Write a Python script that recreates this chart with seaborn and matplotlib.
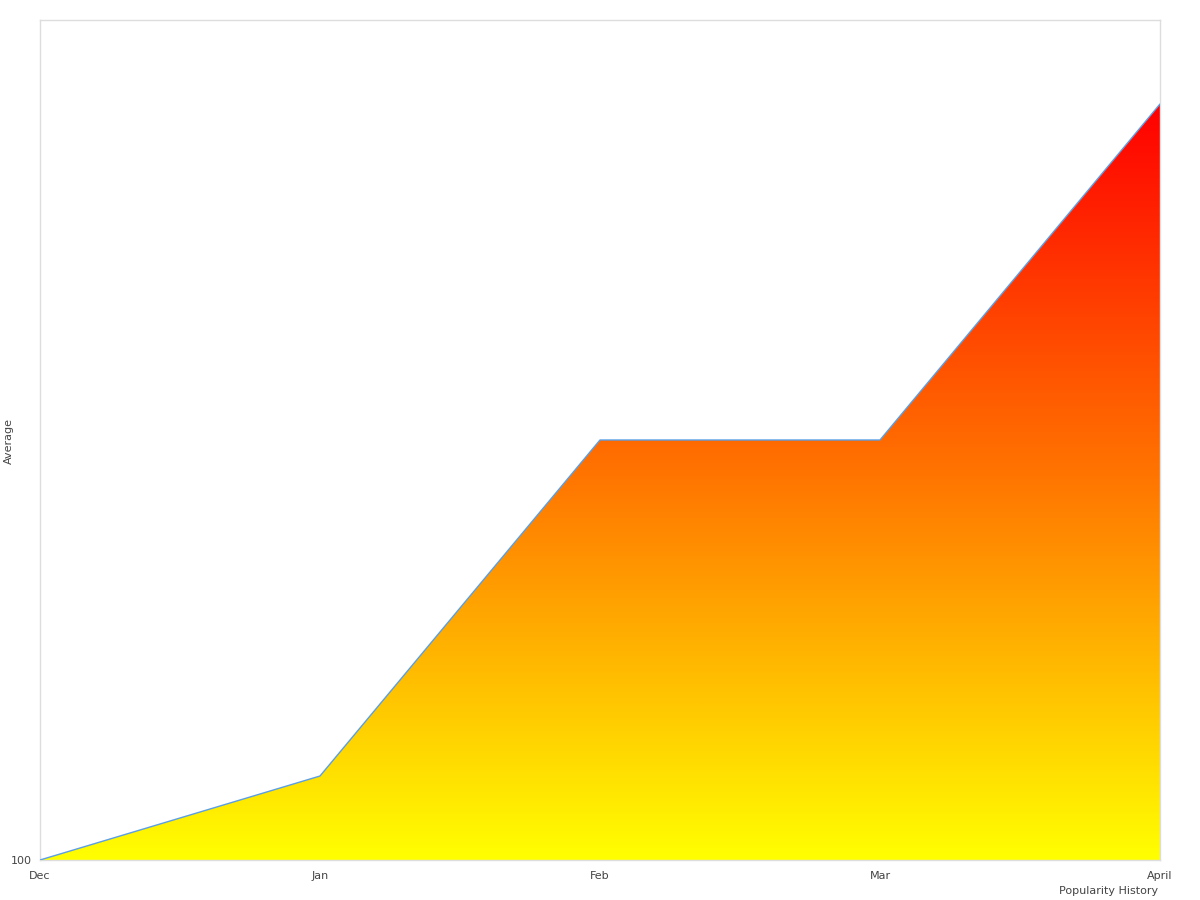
import matplotlib
matplotlib.use("Agg")
import matplotlib.pyplot as plt
import numpy as np
import pandas as pd
import seaborn as sns
from matplotlib.colors import LinearSegmentedColormap
from matplotlib.patches import Polygon

months = ["Dec", "Jan", "Feb", "Mar", "April"]
values = [100, 110, 150, 150, 190]

sns.set_theme(style="white")
plt.rcParams['font.family'] = ['DejaVu Sans']

df = pd.DataFrame({"x": np.arange(len(months)), "month": months, "value": values})

fig = plt.figure(figsize=(12, 9), dpi=100)
ax = fig.add_axes([40/1200, 1-860/900, 1120/1200, 840/900])

ymin, ymax = 100, 200
xs = df["x"].to_numpy(dtype=float)
ys = df["value"].to_numpy(dtype=float)

# gradient fill clipped to the area polygon
cmap = LinearSegmentedColormap.from_list("yr", ["#ffff00", "#ff7700", "#ff0000"])
grad = np.linspace(0, 1, 256).reshape(-1, 1)
top = ys.max()
im = ax.imshow(grad, aspect="auto", cmap=cmap, origin="lower",
               extent=[xs.min(), xs.max(), ymin, top], zorder=1)
verts = np.column_stack([np.r_[xs, xs[::-1]], np.r_[ys, np.full_like(ys, ymin)]])
poly = Polygon(verts, closed=True, facecolor="none", edgecolor="none")
ax.add_patch(poly)
im.set_clip_path(poly)

sns.lineplot(data=df, x="x", y="value", ax=ax, color="#5a9fe6", linewidth=1.0, zorder=3)

ax.set_xlim(xs.min(), xs.max())
ax.set_ylim(ymin, ymax)
ax.set_xticks(xs)
ax.set_xticklabels(months)
ax.set_yticks([100])
ax.set_yticklabels(["100"])
ax.tick_params(axis="both", length=0, labelsize=8, colors="#444444")
ax.tick_params(axis="x", pad=8)
ax.tick_params(axis="y", pad=6)
for s in ax.spines.values():
    s.set_color("#dddddd")
    s.set_linewidth(1)
ax.set_xlabel("")
ax.set_ylabel("")

fig.text(1158/1200, 1-891/900, "Popularity History", ha="right", va="center",
         fontsize=8, color="#444444")
fig.text(9/1200, 1-441/900, "Average", ha="center", va="center", rotation=90,
         fontsize=8, color="#444444")

fig.savefig("out.png", dpi=100)
